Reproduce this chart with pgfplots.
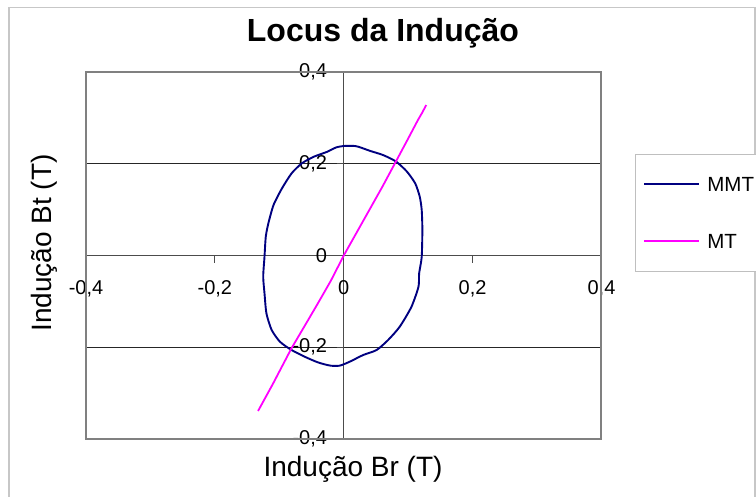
\documentclass[border=0pt]{standalone}
\usepackage{pgfplots}
\pgfplotsset{compat=1.18}
\usepackage{fontspec}
\setmainfont{Liberation Sans}
\definecolor{mmtcol}{HTML}{000080}
\definecolor{mtcol}{HTML}{FF00FF}
\begin{document}
\begin{tikzpicture}[x=1pt,y=1pt]
\useasboundingbox (0,0) rectangle (756,-496);
\draw[color=black!22, line width=1.5pt] (9,-497) -- (9,-7.5) -- (755,-7.5) -- (755,-497);
\begin{axis}[
  at={(86pt,-439pt)}, anchor=south west,
  scale only axis, width=515.5pt, height=367pt,
  xmin=-0.4, xmax=0.4, ymin=-0.4, ymax=0.4,
  clip=false,
  axis lines=middle,
  axis line style={-, draw=black!70, line width=1pt},
  hide obscured x ticks=false, hide obscured y ticks=false,
  xtick={-0.4,-0.2,0,0.2,0.4}, ytick={-0.4,-0.2,0,0.2,0.4},
  xticklabels={{-0,4},{-0,2},0,{0,2},{0,4}},
  yticklabels={{-0,4},{-0,2},0,{0,2},{0,4}},
  tick align=outside, major tick length=7pt,
  tick style={black!70, line width=1pt},
  ymajorgrids, grid style={black!85, line width=0.8pt},
  tick label style={font=\fontsize{20}{24}\selectfont, inner sep=0pt},
  xticklabel shift=17.5pt,
  yticklabel shift=9.5pt,
  title={Locus da Indução},
  title style={at={(axis description cs:0.576,1.068)}, anchor=base, font=\fontsize{32}{36}\selectfont\bfseries},
  xlabel={Indução Br (T)},
  xlabel style={at={(axis description cs:0.518,-0.101)}, anchor=base, font=\fontsize{28}{32}\selectfont},
  ylabel={Indução Bt (T)},
  ylabel style={at={(axis description cs:-0.066,0.534)}, anchor=base, rotate=90, font=\fontsize{28}{32}\selectfont},
  legend style={at={(axis description cs:1.065,0.777)}, anchor=north west,
    draw=black!25, line width=1pt, fill=white,
    font=\fontsize{20.5}{24}\selectfont,
    inner xsep=2pt, inner ysep=22.5pt, row sep=42pt,
    nodes={inner sep=0pt, text height=15pt, text depth=0pt},
    /tikz/every odd column/.style={column sep=7pt}},
  legend cell align=left,
  legend image code/.code={\path (0pt,0pt); \draw[#1] (6pt,0pt) -- (61pt,0pt);},
]
\draw[black!50, line width=2pt] (rel axis cs:0,0) rectangle (rel axis cs:1,1);
\addplot[color=mmtcol, line width=1.9pt, smooth, tension=0.4] coordinates {
(0.002,0.239) (0.015,0.239) (0.023,0.237) (0.041,0.228) (0.061,0.219)
(0.081,0.205) (0.098,0.183) (0.111,0.157) (0.118,0.128) (0.121,0.099)
(0.122,0.056) (0.121,-0.003) (0.117,-0.039) (0.116,-0.068) (0.105,-0.112)
(0.087,-0.155) (0.069,-0.184) (0.051,-0.206) (0.030,-0.217) (0.010,-0.231)
(-0.006,-0.240) (-0.021,-0.240) (-0.040,-0.233) (-0.060,-0.221) (-0.081,-0.206)
(-0.099,-0.188) (-0.112,-0.162) (-0.120,-0.126) (-0.123,-0.082) (-0.125,-0.046)
(-0.123,-0.003) (-0.121,0.041) (-0.117,0.070) (-0.109,0.110) (-0.096,0.146)
(-0.081,0.179) (-0.065,0.201) (-0.047,0.215) (-0.026,0.226) (-0.011,0.236)
(0.002,0.239)
};
\addlegendentry{MMT}
\addplot[color=mtcol, line width=1.8pt] coordinates {
(-0.133,-0.339) (-0.110,-0.280) (-0.081,-0.202) (-0.055,-0.140) (-0.040,-0.104)
(-0.020,-0.055) (0,0) (0.020,0.050) (0.040,0.100) (0.060,0.150)
(0.081,0.205) (0.100,0.255) (0.115,0.295) (0.122,0.312) (0.128,0.328)
};
\addlegendentry{MT}
\end{axis}
\end{tikzpicture}
\end{document}
